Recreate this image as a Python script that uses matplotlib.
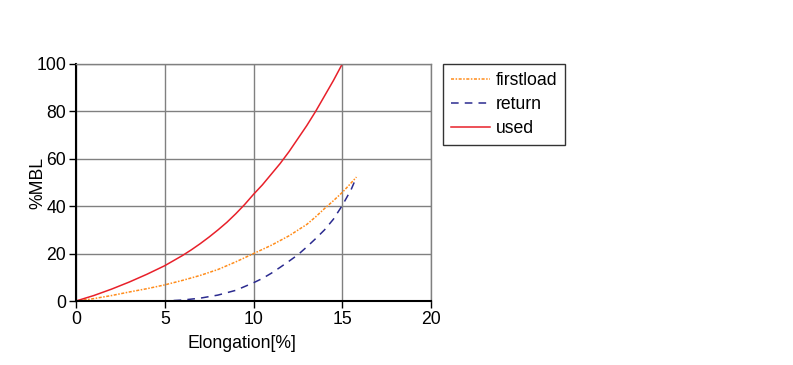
import matplotlib
matplotlib.use('Agg')
import matplotlib.pyplot as plt

plt.rcParams['font.family'] = ['Liberation Sans', 'DejaVu Sans']

# used curve
used_x = [0, 1, 2, 3, 4, 5, 6, 6.5, 7, 7.5, 8, 8.5, 9, 9.5, 10, 10.5, 11, 11.5, 12, 12.5, 13, 13.5, 14, 14.5, 15]
used_y = [0, 2.3, 5.0, 8.0, 11.3, 14.9, 19.2, 21.6, 24.2, 27.0, 30.0, 33.2, 36.8, 40.7, 45.0, 49.0, 53.5, 58.0, 63.0, 68.5, 74.0, 80.0, 86.5, 93.0, 100]

# firstload curve
first_x = [0, 1, 2, 3, 4, 5, 6, 7, 8, 9, 10, 11, 12, 13, 13.5, 14, 14.5, 15, 15.4, 15.8]
first_y = [0, 1.0, 2.3, 3.8, 5.2, 6.8, 8.7, 10.8, 13.3, 16.5, 20.0, 23.5, 27.5, 32.3, 35.5, 39.0, 42.3, 45.8, 49.0, 52.3]

# return curve
ret_x = [5.5, 6, 7, 8, 9, 10, 10.5, 11, 11.5, 12, 12.5, 13, 13.5, 14, 14.5, 15, 15.5, 15.8]
ret_y = [0.2, 0.4, 1.2, 2.5, 4.5, 7.7, 9.5, 11.7, 14.2, 16.8, 19.5, 22.8, 26.3, 30.0, 34.5, 40.3, 47.0, 52.3]

fig = plt.figure(figsize=(7.93, 3.65), dpi=100)
ax = fig.add_axes([76 / 793, 64 / 365, 355 / 793, 237 / 365])

ax.plot(first_x, first_y, color='#ff8c1a', lw=1.1, dashes=(2, 1, 1, 1), label='firstload')
ax.plot(ret_x, ret_y, color='#2b2b8f', lw=1.1, dashes=(5, 4), label='return')
ax.plot(used_x, used_y, color='#e8202a', lw=1.1, label='used')

ax.set_xlim(0, 20)
ax.set_ylim(0, 100)
ax.set_xticks([0, 5, 10, 15, 20])
ax.set_yticks([0, 20, 40, 60, 80, 100])
ax.grid(True, color='#808080', lw=1)
ax.set_axisbelow(True)
for s in ['top', 'right']:
    ax.spines[s].set_color('#808080')
    ax.spines[s].set_linewidth(1)
for s in ['left', 'bottom']:
    ax.spines[s].set_color('black')
    ax.spines[s].set_linewidth(1.5)
ax.tick_params(labelsize=12.7, length=5, width=1, colors='black', pad=2)

ax.set_xlabel('Elongation[%]', fontsize=12.7)
ax.xaxis.set_label_coords((242 - 76) / 355, -0.145)
ax.set_ylabel('%MBL', fontsize=12.7, labelpad=-7)

leg = ax.legend(loc='upper left', bbox_to_anchor=(443 / 793, 1 - 64 / 365), bbox_transform=fig.transFigure,
                fontsize=12.7, frameon=True, fancybox=False, edgecolor='black', handlelength=2.2,
                handletextpad=0.35, borderpad=0.45, labelspacing=0.4, borderaxespad=0)
leg.get_frame().set_linewidth(1)

fig.savefig('out.png', dpi=100)
